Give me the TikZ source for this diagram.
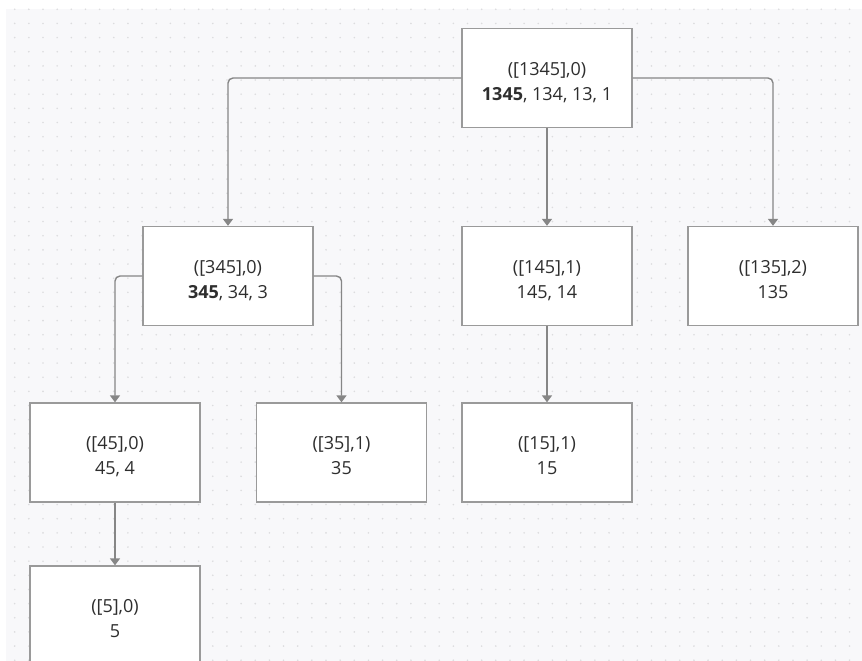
\documentclass[tikz,border=0pt]{standalone}
\usepackage{fontspec}
\setmainfont{Open Sans}
\usetikzlibrary{arrows.meta}
\definecolor{canvas}{HTML}{F8F8FA}
\definecolor{griddot}{HTML}{DCDCDE}
\definecolor{boxline}{HTML}{9A9A9A}
\definecolor{linkline}{HTML}{868686}
\definecolor{ink}{HTML}{2E2E2E}
\tikzset{
  state/.style={draw=boxline, line width=1.3pt, fill=white, minimum width=170pt,
    minimum height=99pt, inner sep=0pt, align=center, text=ink,
    text height=47pt, text depth=2.8pt,
    font=\fontsize{18}{25}\selectfont},
  link/.style={draw=linkline, line width=1.4pt, rounded corners=5pt,
    -{Triangle[width=10pt,length=7pt]}},
}
\begin{document}
\begin{tikzpicture}[x=1pt,y=-1pt]
  \useasboundingbox (0,0) rectangle (862,661);
  \clip (0,0) rectangle (862,661);
  % dotted canvas
  \fill[canvas] (6,9) rectangle (862,661);
  \foreach \i in {1,...,60} {
    \foreach \j in {0,...,46} {
      \fill[griddot] ({0.55+14.15*\i},{9.3+14.15*\j}) circle (0.9pt);
    }
  }
  % states
  \node[state] (r) at (547,78)    {([1345],0)\\\textbf{1345}, 134, 13, 1};
  \node[state] (a) at (228,276)   {([345],0)\\\textbf{345}, 34, 3};
  \node[state] (b) at (547,276)   {([145],1)\\145, 14};
  \node[state] (c) at (773,276)   {([135],2)\\135};
  \node[state] (d) at (115,452.5) {([45],0)\\45, 4};
  \node[state] (e) at (341.5,452.5) {([35],1)\\35};
  \node[state] (f) at (547,452.5) {([15],1)\\15};
  \node[state] (g) at (115,615.5) {([5],0)\\5};
  % links
  \draw[link] (r.west) -| (a.north);
  \draw[link] (r.south) -- (b.north);
  \draw[link] (r.east) -| (c.north);
  \draw[link] (a.west) -| (d.north);
  \draw[link] (a.east) -| (e.north);
  \draw[link] (b.south) -- (f.north);
  \draw[link] (d.south) -- (g.north);
\end{tikzpicture}
\end{document}
